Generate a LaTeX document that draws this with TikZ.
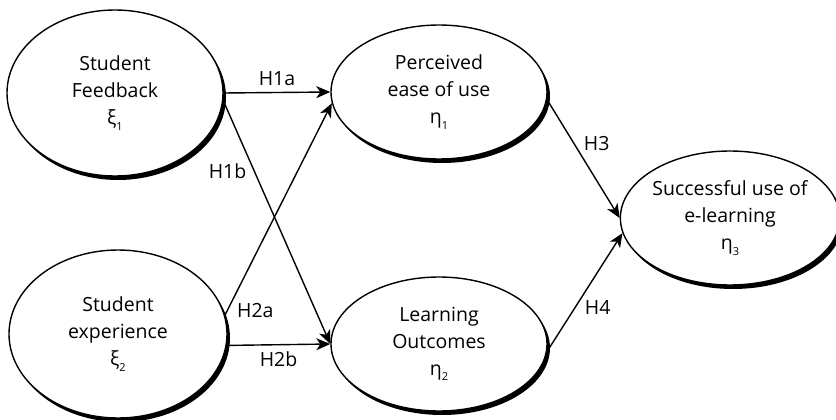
\documentclass[tikz,border=0pt]{standalone}
\usepackage{fontspec}
\setmainfont{Open Sans}
\usepackage{tikz}
\usetikzlibrary{shapes.geometric, shadows, arrows.meta}

\tikzset{
	construct/.style = {ellipse, draw, line width = 1.4pt, fill = white, inner sep = 0pt, align = center,
		font = \fontsize{19.5}{27}\selectfont,
		drop shadow = {shadow xshift = 3pt, shadow yshift = -4pt, fill = black, opacity = 1}},
	path/.style = {-{Stealth[length = 14pt, width = 12pt, inset = 4pt]}, line width = 1.4pt},
	hyp/.style = {font = \fontsize{19.5}{22}\selectfont}
}
\newcommand{\lv}[2]{#1\raisebox{-0.5ex}{\fontsize{11}{11}\selectfont #2}}

\begin{document}
\begin{tikzpicture}[x = 1pt, y = -1pt]
			\useasboundingbox (0,0) rectangle (836,420);
			
			\node [construct, minimum width = 216pt, minimum height = 166pt] (SF) at (115,93) {Student\\Feedback\\\lv{ξ}{1}};
			\node [construct, minimum width = 218pt, minimum height = 168pt] (SE) at (118,334) {Student\\experience\\\lv{ξ}{2}};
			
			\node [construct, minimum width = 216pt, minimum height = 134pt] (PE) at (439,92) {Perceived\\ease of use\\\lv{η}{1}};
			\node [construct, minimum width = 216pt, minimum height = 134pt] (LO) at (439,344) {Learning\\Outcomes\\\lv{η}{2}};
			
			\node [construct, minimum width = 208pt, minimum height = 134pt] (SU) at (730,218) {Successful use of\\e-learning\\\lv{η}{3}};
			
			\draw [path] (SF.east) -- (PE.west) node [midway, above = 3pt, hyp] {H1a};
			\draw [path] (SF.-4) -- (LO.west) node [pos = 0.29, left = 4pt, hyp] {H1b};
			\draw [path] (SE.10) -- (PE.186) node [pos = 0.02, right = 6pt, hyp] {H2a};
			\draw [path] (SE.-6) -- (LO.west) node [midway, below = 3pt, hyp] {H2b};
			
			\draw [path] (PE.-4) -- (SU.west) node [pos = 0.37, right = 6pt, hyp] {H3};
			\draw [path] (LO.-4) -- (SU.188) node [pos = 0.37, right = 6pt, hyp] {H4};
			
		\end{tikzpicture}
\end{document}
